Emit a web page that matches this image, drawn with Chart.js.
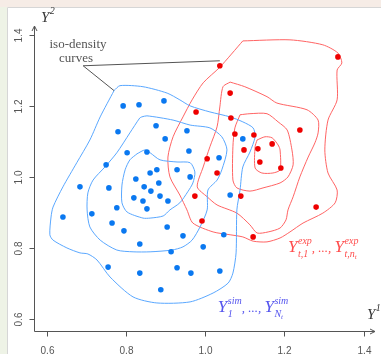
<!DOCTYPE html>
<html>
<head>
<meta charset="utf-8">
<script src="https://cdn.jsdelivr.net/npm/chart.js@4.4.0/dist/chart.umd.min.js"></script>
<style>
  html, body { margin: 0; padding: 0; background: #fff; }
  canvas { display: block; }
</style>
</head>
<body>
<canvas id="chart" width="381" height="354"></canvas>
<script>
const xTicks = [0.6, 0.8, 1.0, 1.2, 1.4]
const yTicks = [0.6, 0.8, 1.0, 1.2, 1.4]
const tickLabels = ['0.6', '0.8', '1.0', '1.2', '1.4']

// simulated sample Y^sim (blue)
const simX = [0.793, 0.833, 0.896, 0.780, 0.876, 0.954, 0.899, 0.803, 0.853, 0.959,
  0.750, 1.035, 1.095, 0.861, 0.878, 0.929, 0.825, 0.962, 0.883, 0.684,
  0.757, 0.846, 0.863, 0.820, 0.843, 0.886, 0.906, 1.063, 0.641, 0.714,
  0.777, 0.853, 0.765, 0.795, 0.904, 0.944, 1.047, 0.835, 0.995, 0.914,
  0.755, 0.835, 0.929, 0.964, 1.037, 0.888]
const simY = [1.201, 1.204, 1.215, 1.128, 1.145, 1.131, 1.108, 1.069, 1.071, 1.074,
  1.035, 1.055, 1.108, 1.012, 1.021, 1.021, 0.995, 1.001, 0.984, 0.973,
  0.970, 0.973, 0.961, 0.942, 0.933, 0.947, 0.933, 0.950, 0.888, 0.897,
  0.914, 0.911, 0.871, 0.849, 0.860, 0.835, 0.838, 0.812, 0.804, 0.790,
  0.747, 0.730, 0.745, 0.730, 0.736, 0.683]

// experimental sample Y^exp (red)
const expX = [1.335, 1.037, 1.063, 0.977, 1.065, 1.239, 1.075, 1.123, 1.169, 1.098,
  1.133, 1.005, 1.138, 1.191, 1.030, 0.974, 1.090, 1.280, 0.992, 1.121]
const expY = [1.339, 1.314, 1.237, 1.184, 1.167, 1.133, 1.122, 1.119, 1.094, 1.077,
  1.080, 1.052, 1.043, 1.026, 1.012, 0.947, 0.947, 0.916, 0.877, 0.832]

// iso-density curves, [x, y] pairs, closed
const simOuter = [[0.770, 1.244], [0.785, 1.258], [0.843, 1.255], [0.904, 1.237], [0.936, 1.218],
  [0.962, 1.201], [1.012, 1.184], [1.063, 1.170], [1.095, 1.156], [1.121, 1.139], [1.126, 1.114],
  [1.113, 1.071], [1.095, 1.029], [1.088, 0.964], [1.080, 0.908], [1.078, 0.787], [1.070, 0.730],
  [1.058, 0.702], [1.020, 0.674], [0.962, 0.649], [0.878, 0.646], [0.818, 0.663], [0.760, 0.719],
  [0.727, 0.767], [0.704, 0.784], [0.684, 0.787], [0.651, 0.801], [0.616, 0.823], [0.608, 0.838],
  [0.611, 0.888], [0.616, 0.916], [0.641, 0.973], [0.676, 1.041], [0.709, 1.105], [0.735, 1.170],
  [0.770, 1.244]]
const simMiddle = [[0.840, 1.170], [0.853, 1.173], [0.919, 1.161], [0.962, 1.147], [1.012, 1.139],
  [1.042, 1.114], [1.055, 1.077], [1.042, 1.021], [1.030, 0.992], [1.007, 0.964], [1.005, 0.908],
  [0.987, 0.860], [0.967, 0.823], [0.944, 0.804], [0.916, 0.795], [0.861, 0.790], [0.818, 0.790],
  [0.777, 0.795], [0.735, 0.823], [0.709, 0.860], [0.702, 0.908], [0.704, 0.956], [0.717, 0.992],
  [0.747, 1.029], [0.777, 1.069], [0.810, 1.125], [0.835, 1.167], [0.840, 1.170]]
const simInner = [[0.828, 1.066], [0.848, 1.077], [0.861, 1.069], [0.886, 1.049], [0.929, 1.043],
  [0.962, 1.041], [0.974, 1.015], [0.969, 0.984], [0.956, 0.959], [0.936, 0.928], [0.911, 0.908],
  [0.894, 0.891], [0.861, 0.885], [0.843, 0.885], [0.803, 0.902], [0.790, 0.928], [0.790, 0.978],
  [0.798, 1.021], [0.810, 1.049], [0.828, 1.066]]

const expOuter = [[1.095, 1.384], [1.214, 1.387], [1.297, 1.373], [1.335, 1.350], [1.345, 1.322],
  [1.333, 1.302], [1.333, 1.218], [1.310, 1.161], [1.302, 1.077], [1.310, 1.012], [1.333, 0.964],
  [1.328, 0.928], [1.297, 0.899], [1.247, 0.871], [1.214, 0.846], [1.189, 0.829], [1.156, 0.818],
  [1.121, 0.820], [1.095, 0.832], [1.063, 0.838], [1.020, 0.846], [0.969, 0.871], [0.954, 0.908],
  [0.936, 0.950], [0.911, 1.001], [0.906, 1.057], [0.919, 1.114], [0.944, 1.170], [0.967, 1.218],
  [0.995, 1.266], [1.037, 1.310], [1.095, 1.384]]
const expMiddle = [[1.063, 1.268], [1.100, 1.255], [1.156, 1.227], [1.181, 1.209], [1.257, 1.190],
  [1.285, 1.161], [1.285, 1.125], [1.277, 1.097], [1.260, 1.057], [1.239, 1.001], [1.222, 0.945],
  [1.209, 0.908], [1.204, 0.880], [1.189, 0.857], [1.159, 0.846], [1.131, 0.843], [1.113, 0.866],
  [1.080, 0.899], [1.030, 0.922], [1.005, 0.945], [0.980, 0.973], [0.995, 1.029], [1.012, 1.086],
  [1.030, 1.142], [1.037, 1.198], [1.045, 1.255], [1.063, 1.268]]
const expInner = [[1.088, 1.176], [1.113, 1.179], [1.156, 1.179], [1.184, 1.156], [1.207, 1.133],
  [1.219, 1.077], [1.222, 1.035], [1.209, 1.001], [1.189, 0.984], [1.146, 0.970], [1.113, 0.961],
  [1.080, 0.970], [1.070, 0.992], [1.070, 1.086], [1.075, 1.139], [1.088, 1.176]]
const expCore = [[1.131, 1.105], [1.151, 1.114], [1.169, 1.111], [1.184, 1.091], [1.189, 1.077],
  [1.189, 1.021], [1.171, 1.012], [1.143, 1.012], [1.126, 1.026], [1.126, 1.086], [1.131, 1.105]]

const BLUE_PT = '#0a78f0'
const BLUE_LN = '#5aa8ff'
const RED_PT = '#ee0000'
const RED_LN = '#ff6464'
const AXIS = '#555555'

const toPoints = (xs, ys) => xs.map((x, i) => ({ x, y: ys[i] }))
const toLine = (pairs) => pairs.map(([x, y]) => ({ x, y }))

const contour = (pairs, color) => ({
  data: toLine(pairs),
  showLine: true,
  borderColor: color,
  borderWidth: 1,
  pointRadius: 0,
  tension: 0.25,
  fill: false,
  order: 2
})

// base letter with stacked super/subscript; subTail is a second-level subscript
function drawScripted(ctx, x, y, base, sup, sub, subTail, big = 17) {
  ctx.font = `italic ${big}px "Liberation Serif"`
  ctx.fillText(base, x, y)
  x += ctx.measureText(base).width + 0.5
  ctx.font = 'italic 10px "Liberation Serif"'
  ctx.fillText(sup, x, y - 8)
  ctx.fillText(sub, x, y + 5)
  let subW = ctx.measureText(sub).width
  const supW = ctx.measureText(sup).width
  if (subTail) {
    ctx.font = 'italic 7px "Liberation Serif"'
    ctx.fillText(subTail, x + subW, y + 7)
    subW += ctx.measureText(subTail).width
  }
  return x + Math.max(supW, subW)
}

const decorPlugin = {
  id: 'decor',
  beforeDraw(chart) {
    const { ctx, width, height } = chart
    ctx.save()
    ctx.fillStyle = '#f6ece6'
    ctx.fillRect(0, 0, width, height)
    ctx.fillStyle = '#eef3e6'
    ctx.fillRect(0, 7, 7, height - 7)
    ctx.fillStyle = '#ffffff'
    ctx.fillRect(7, 7, width - 7, height - 7)
    ctx.strokeStyle = '#d6d6d6'
    ctx.lineWidth = 1
    ctx.beginPath()
    ctx.moveTo(7.5, height)
    ctx.lineTo(7.5, 7.5)
    ctx.lineTo(width, 7.5)
    ctx.stroke()
    ctx.restore()
  },
  afterDatasetsDraw(chart) {
    const { ctx, chartArea: a, scales: { x, y } } = chart
    ctx.save()
    ctx.strokeStyle = AXIS
    ctx.fillStyle = AXIS
    ctx.lineWidth = 1

    // axes with arrows
    const x0 = Math.round(a.left) + 0.5
    const y0 = Math.round(a.bottom) + 0.5
    ctx.beginPath()
    ctx.moveTo(x0, y0)
    ctx.lineTo(x0, a.top)
    ctx.moveTo(x0, y0)
    ctx.lineTo(a.right, y0)
    ctx.moveTo(x0 - 2.5, a.top + 5)
    ctx.lineTo(x0, a.top)
    ctx.lineTo(x0 + 2.5, a.top + 5)
    ctx.moveTo(a.right - 5, y0 - 2.5)
    ctx.lineTo(a.right, y0)
    ctx.lineTo(a.right - 5, y0 + 2.5)
    ctx.stroke()

    // ticks and labels
    ctx.font = '10px "Liberation Sans"'
    ctx.fillStyle = '#555555'
    xTicks.forEach((v, i) => {
      const px = Math.round(x.getPixelForValue(v)) + 0.5
      ctx.beginPath()
      ctx.moveTo(px, y0)
      ctx.lineTo(px, y0 + 5)
      ctx.stroke()
      ctx.textAlign = 'center'
      ctx.textBaseline = 'alphabetic'
      ctx.fillText(tickLabels[i], px, y0 + 22)
    })
    yTicks.forEach((v, i) => {
      const py = Math.round(y.getPixelForValue(v)) + 0.5
      ctx.beginPath()
      ctx.moveTo(x0, py)
      ctx.lineTo(x0 - 5, py)
      ctx.stroke()
      ctx.save()
      ctx.translate(x0 - 13, py)
      ctx.rotate(-Math.PI / 2)
      ctx.textAlign = 'center'
      ctx.textBaseline = 'alphabetic'
      ctx.fillText(tickLabels[i], 0, 0)
      ctx.restore()
    })

    // axis names
    ctx.fillStyle = '#333333'
    ctx.textAlign = 'left'
    drawScripted(ctx, a.left + 7, a.top - 4, 'Y', '2', '', '', 15)
    drawScripted(ctx, a.right - 8, a.bottom - 12, 'Y', '1', '', '', 15)

    // iso-density annotation
    ctx.strokeStyle = '#555555'
    ctx.beginPath()
    ctx.moveTo(x.getPixelForValue(0.770), y.getPixelForValue(1.244))
    ctx.lineTo(x.getPixelForValue(0.692), y.getPixelForValue(1.314))
    ctx.lineTo(x.getPixelForValue(1.037), y.getPixelForValue(1.328))
    ctx.stroke()
    ctx.fillStyle = '#555555'
    ctx.font = '13px "Liberation Serif"'
    ctx.textAlign = 'center'
    ctx.fillText('iso-density', x.getPixelForValue(0.679), y.getPixelForValue(1.375) + 4)
    ctx.fillText('curves', x.getPixelForValue(0.674), y.getPixelForValue(1.336) + 4)

    // sample labels
    ctx.textAlign = 'left'
    ctx.fillStyle = '#ff4d4d'
    let px = x.getPixelForValue(1.209)
    let py = y.getPixelForValue(0.789)
    px = drawScripted(ctx, px, py, 'Y', 'exp', 't,1')
    ctx.font = 'italic 13px "Liberation Serif"'
    ctx.fillText(', ..., ', px, py)
    px += ctx.measureText(', ..., ').width
    drawScripted(ctx, px, py, 'Y', 'exp', 't,n', 't')

    ctx.fillStyle = '#5555ee'
    px = x.getPixelForValue(1.032)
    py = y.getPixelForValue(0.621)
    px = drawScripted(ctx, px, py, 'Y', 'sim', '1')
    ctx.font = 'italic 13px "Liberation Serif"'
    ctx.fillText(', ..., ', px, py)
    px += ctx.measureText(', ..., ').width
    drawScripted(ctx, px, py, 'Y', 'sim', 'N', 't')
    ctx.restore()
  }
}

new Chart(document.getElementById('chart'), {
  type: 'scatter',
  data: {
    datasets: [
      { data: toPoints(simX, simY), backgroundColor: BLUE_PT, borderWidth: 0, pointRadius: 2.8, order: 0 },
      { data: toPoints(expX, expY), backgroundColor: RED_PT, borderWidth: 0, pointRadius: 2.8, order: 0 },
      contour(simOuter, BLUE_LN),
      contour(simMiddle, BLUE_LN),
      contour(simInner, BLUE_LN),
      contour(expOuter, RED_LN),
      contour(expMiddle, RED_LN),
      contour(expInner, RED_LN),
      contour(expCore, RED_LN)
    ]
  },
  options: {
    responsive: false,
    animation: false,
    devicePixelRatio: 1,
    layout: { padding: { left: 34, top: 26, right: 6, bottom: 23 } },
    plugins: { legend: { display: false }, tooltip: { enabled: false } },
    scales: {
      x: { type: 'linear', min: 0.568, max: 1.4286, display: false },
      y: { type: 'linear', min: 0.567, max: 1.426, display: false }
    }
  },
  plugins: [decorPlugin]
})
</script>
</body>
</html>
